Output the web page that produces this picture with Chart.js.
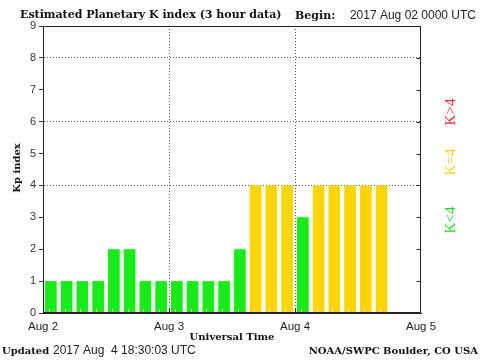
<!DOCTYPE html>
<html><head><meta charset="utf-8">
<script src="https://cdn.jsdelivr.net/npm/chart.js@4"></script>
<style>html,body{margin:0;padding:0;background:#fff}#wrap{width:480px;height:360px;position:relative}</style>
</head><body><div id="wrap"><canvas id="c" width="480" height="360"></canvas></div>
<script>
// 3-hour slots, 2017 Aug 2 00 UTC .. Aug 4 21 UTC
const slotLabels = [
  'Aug 2 00','Aug 2 03','Aug 2 06','Aug 2 09','Aug 2 12','Aug 2 15','Aug 2 18','Aug 2 21',
  'Aug 3 00','Aug 3 03','Aug 3 06','Aug 3 09','Aug 3 12','Aug 3 15','Aug 3 18','Aug 3 21',
  'Aug 4 00','Aug 4 03','Aug 4 06','Aug 4 09','Aug 4 12','Aug 4 15','Aug 4 18','Aug 4 21'
];
const kpValues = [1,1,1,1,2,2,1,1, 1,1,1,1,2,4,4,4, 3,4,4,4,4,4];
const dayTickLabels = ['Aug 2','Aug 3','Aug 4','Aug 5'];
const yTickValues = [0,1,2,3,4,5,6,7,8,9];
const dottedYLevels = [4,6,8];
const dottedDays = [1,2];
const titleText = 'Estimated Planetary K index (3 hour data)';
const beginLabel = 'Begin:';
const beginText = '2017 Aug 02 0000 UTC';
const updatedLabel = 'Updated';
const updatedText = '2017 Aug  4 18:30:03 UTC';
const creditText = 'NOAA/SWPC Boulder, CO USA';
const yTitle = 'Kp index';
const xTitle = 'Universal Time';
const kLegend = [
  {text:'K<4', color:'#22dd22'},
  {text:'K=4', color:'#ffd21a'},
  {text:'K>4', color:'#ee2a2a'}
];

const GREEN = '#16ec16', YELLOW = '#ffd500', RED = '#ff2020';
const barColors = kpValues.map(v => v < 4 ? GREEN : (v === 4 ? YELLOW : RED));
const SERIF = '"DejaVu Serif", "Liberation Serif", serif';
const SANS = '"Liberation Sans", Arial, sans-serif';

const decor = {
  id: 'decor',
  afterDatasetsDraw(chart) {
    const ctx = chart.ctx, a = chart.chartArea, xs = chart.scales.x;
    ctx.save();
    ctx.strokeStyle = 'rgba(255,255,255,0.75)';
    ctx.lineWidth = 1;
    for (let i = 0; i < kpValues.length; i++) {
      const px = Math.round(xs.getPixelForValue(i)) - 1.5;
      ctx.beginPath(); ctx.moveTo(px, a.bottom); ctx.lineTo(px, a.bottom - 4); ctx.stroke();
    }
    ctx.restore();
  },
  afterDraw(chart) {
    const ctx = chart.ctx, a = chart.chartArea, ys = chart.scales.y, xd = chart.scales.xd;
    ctx.save();
    // frame
    ctx.strokeStyle = '#222'; ctx.lineWidth = 1;
    const L = Math.round(a.left) + 0.5, R = Math.round(a.right) - 0.5;
    const T = Math.round(a.top) + 0.5, B = Math.round(a.bottom) - 0.5;
    ctx.strokeRect(L, T, R - L, B - T);
    // right axis inward ticks
    yTickValues.forEach(v => {
      const py = Math.round(ys.getPixelForValue(v)) + 0.5;
      ctx.beginPath(); ctx.moveTo(R, py); ctx.lineTo(R - 4, py); ctx.stroke();
    });
    // bottom inward ticks at days
    dottedDays.forEach(d => {
      const px = Math.round(xd.getPixelForValue(d)) + 0.5;
      ctx.beginPath(); ctx.moveTo(px, B); ctx.lineTo(px, B - 4); ctx.stroke();
    });
    // texts
    ctx.fillStyle = '#111';
    ctx.textBaseline = 'middle';
    ctx.textAlign = 'left';
    ctx.font = 'bold 11px ' + SERIF;
    ctx.fillText(titleText, 20, 15, 264);
    ctx.fillText(beginLabel, 295, 16);
    ctx.font = '12px ' + SANS;
    ctx.fillStyle = '#222';
    ctx.textAlign = 'right';
    ctx.fillText(beginText, 476, 16);
    ctx.textAlign = 'left';
    ctx.fillStyle = '#111';
    ctx.font = 'bold 10px ' + SERIF;
    ctx.fillText(updatedLabel, 2, 351);
    ctx.font = '12px ' + SANS;
    ctx.fillStyle = '#222';
    ctx.fillText(updatedText, 53, 351);
    ctx.fillStyle = '#111';
    ctx.font = 'bold 10px ' + SERIF;
    ctx.textAlign = 'right';
    ctx.fillText(creditText, 478, 351);
    ctx.textAlign = 'center';
    ctx.fillText(xTitle, (a.left + a.right) / 2, 337);
    // y title
    ctx.save();
    ctx.translate(17, 168);
    ctx.rotate(-Math.PI / 2);
    ctx.fillText(yTitle, 0, 0);
    ctx.restore();
    // K legend (rotated)
    const kY = [220, 162, 112];
    ctx.font = '15px "Liberation Serif", serif';
    kLegend.forEach((k, i) => {
      ctx.save();
      ctx.translate(451, kY[i]);
      ctx.rotate(-Math.PI / 2);
      ctx.fillStyle = k.color;
      ctx.textAlign = 'center';
      ctx.fillText(k.text, 0, 0);
      ctx.restore();
    });
    ctx.restore();
  }
};

new Chart(document.getElementById('c'), {
  type: 'bar',
  data: {
    labels: slotLabels,
    datasets: [{
      data: kpValues,
      backgroundColor: barColors,
      borderWidth: 0,
      barPercentage: 0.74,
      categoryPercentage: 1.0,
      xAxisID: 'x',
      yAxisID: 'y'
    }]
  },
  options: {
    responsive: false,
    animation: false,
    devicePixelRatio: 1,
    layout: {padding: {left: 0, right: 59, top: 26, bottom: 0}},
    plugins: {legend: {display: false}, tooltip: {enabled: false}, title: {display: false}},
    scales: {
      x: {type: 'category', display: false, offset: true},
      xd: {
        type: 'linear', position: 'bottom', min: 0, max: 3, offset: false,
        afterFit(s) { s.height = 47; },
        ticks: {
          stepSize: 1, autoSkip: false, maxRotation: 0,
          callback: (v) => dayTickLabels[v],
          font: {family: SANS, size: 11.5}, color: '#222', padding: 7
        },
        grid: {
          offset: false,
          drawTicks: false,
          color: (c) => (c.tick && dottedDays.includes(c.tick.value)) ? '#555' : 'rgba(0,0,0,0)',
          lineWidth: 1
        },
        border: {display: true, color: '#222', dash: [1, 2]}
      },
      y: {
        min: 0, max: 9,
        afterFit(s) { s.width = 43; },
        afterBuildTicks(s) { s.ticks = yTickValues.map(v => ({value: v})); },
        ticks: {font: {family: SANS, size: 11}, color: '#333', padding: 3},
        grid: {
          color: (c) => (c.tick && dottedYLevels.includes(c.tick.value)) ? '#555' : 'rgba(0,0,0,0)',
          tickColor: '#333', tickLength: 4, drawTicks: true
        },
        border: {display: true, color: '#222', dash: [1, 2]}
      }
    }
  },
  plugins: [decor]
});
</script>
</body></html>
